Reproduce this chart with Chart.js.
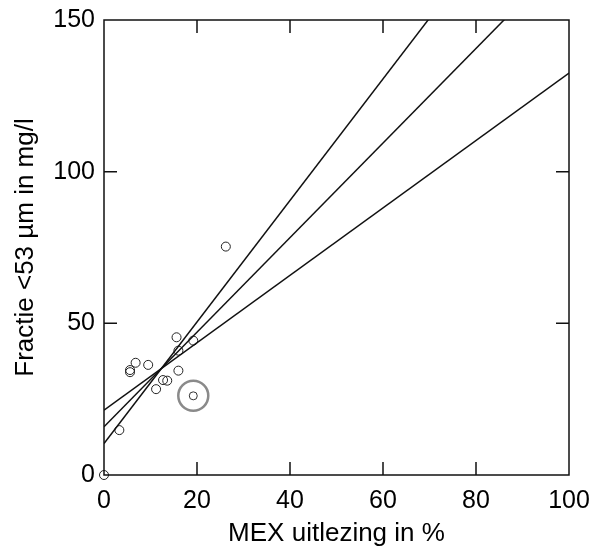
<!DOCTYPE html>
<html>
<head>
<meta charset="utf-8">
<script src="https://cdn.jsdelivr.net/npm/chart.js@4"></script>
<style>
  html, body { margin: 0; padding: 0; background: #fff; }
  #wrap { width: 593px; height: 549px; position: relative; }
</style>
</head>
<body>
<div id="wrap"><canvas id="c"></canvas></div>
<script>
// Measurements: MEX reading (%) against the <53 µm fraction (mg/l)
const mexReading = [0, 3.3, 5.6, 5.6, 6.8, 9.5, 11.2, 12.7, 13.6, 15.6, 16.0, 16.0, 19.2, 26.2];
const fraction53 = [0, 14.8, 34.6, 33.9, 37.0, 36.3, 28.3, 31.3, 31.1, 45.4, 34.4, 41.0, 44.3, 75.3];

// Highlighted measurement (ringed)
const ringedX = [19.2];
const ringedY = [26.1];

// Fitted lines, given by their values at the ends of the x range
const lineEndsX = [0, 100];
const lineSteep = [10.4, 210.7];
const lineMid = [15.9, 171.8];
const lineFlat = [21.4, 132.5];

// Axis ticks
const xTicks = [0, 20, 40, 60, 80, 100];
const yTicks = [0, 50, 100, 150];

const pts = (xs, ys) => xs.map((x, i) => ({ x, y: ys[i] }));

const lineStyle = {
  type: 'line', borderColor: '#111', borderWidth: 1.5, pointRadius: 0,
  fill: false, tension: 0, clip: 0
};

// Frame around the plot with inward tick marks on all four sides
const framePlugin = {
  id: 'frame',
  afterDatasetsDraw(chart) {
    const { ctx, chartArea: a, scales } = chart;
    const len = 13;
    ctx.save();
    ctx.strokeStyle = '#111';
    ctx.lineWidth = 1.5;
    ctx.strokeRect(a.left, a.top, a.right - a.left, a.bottom - a.top);
    ctx.beginPath();
    xTicks.slice(1, -1).forEach(v => {
      const px = scales.x.getPixelForValue(v);
      ctx.moveTo(px, a.bottom); ctx.lineTo(px, a.bottom - len);
      ctx.moveTo(px, a.top); ctx.lineTo(px, a.top + len);
    });
    yTicks.slice(1, -1).forEach(v => {
      const py = scales.y.getPixelForValue(v);
      ctx.moveTo(a.left, py); ctx.lineTo(a.left + len, py);
      ctx.moveTo(a.right, py); ctx.lineTo(a.right - len, py);
    });
    ctx.stroke();
    ctx.restore();
  }
};

const font = 'Liberation Sans, Arial, Helvetica, sans-serif';

new Chart(document.getElementById('c'), {
  type: 'scatter',
  data: {
    datasets: [
      { ...lineStyle, data: pts(lineEndsX, lineSteep) },
      { ...lineStyle, data: pts(lineEndsX, lineMid) },
      { ...lineStyle, data: pts(lineEndsX, lineFlat) },
      {
        data: pts(mexReading, fraction53), pointStyle: 'circle', pointRadius: 4.5,
        borderColor: '#222', borderWidth: 1, backgroundColor: 'rgba(0,0,0,0)', clip: false
      },
      {
        data: pts(ringedX, ringedY), pointStyle: 'circle', pointRadius: 4,
        borderColor: '#333', borderWidth: 1, backgroundColor: 'rgba(0,0,0,0)'
      },
      {
        data: pts(ringedX, ringedY), pointStyle: 'circle', pointRadius: 15,
        borderColor: '#8a8a8a', borderWidth: 2.5, backgroundColor: 'rgba(0,0,0,0)'
      }
    ]
  },
  options: {
    responsive: true,
    maintainAspectRatio: false,
    animation: false,
    events: [],
    layout: { padding: { left: 0, top: 20, right: 24, bottom: 0 } },
    plugins: { legend: { display: false }, tooltip: { enabled: false } },
    scales: {
      x: {
        type: 'linear', min: 0, max: 100,
        afterBuildTicks: s => { s.ticks = xTicks.map(v => ({ value: v })); },
        afterFit: s => { s.height = 74; s.paddingLeft = 0; s.paddingRight = 0; },
        grid: { display: false, drawTicks: false },
        border: { display: false },
        ticks: { color: '#000', padding: 11, font: { family: font, size: 25 } },
        title: {
          display: true, text: 'MEX uitlezing in %', color: '#000',
          padding: { top: 0, bottom: 0 }, font: { family: font, size: 26 }
        }
      },
      y: {
        type: 'linear', min: 0, max: 150,
        afterBuildTicks: s => { s.ticks = yTicks.map(v => ({ value: v })); },
        afterFit: s => { s.width = 104; s.paddingTop = 0; s.paddingBottom = 0; },
        grid: { display: false, drawTicks: false },
        border: { display: false },
        ticks: { color: '#000', padding: 9, font: { family: font, size: 25 } },
        title: {
          display: true, text: 'Fractie <53 µm in mg/l', color: '#000',
          padding: { top: 10, bottom: 0 }, font: { family: font, size: 26 }
        }
      }
    }
  },
  plugins: [framePlugin]
});
</script>
</body>
</html>
